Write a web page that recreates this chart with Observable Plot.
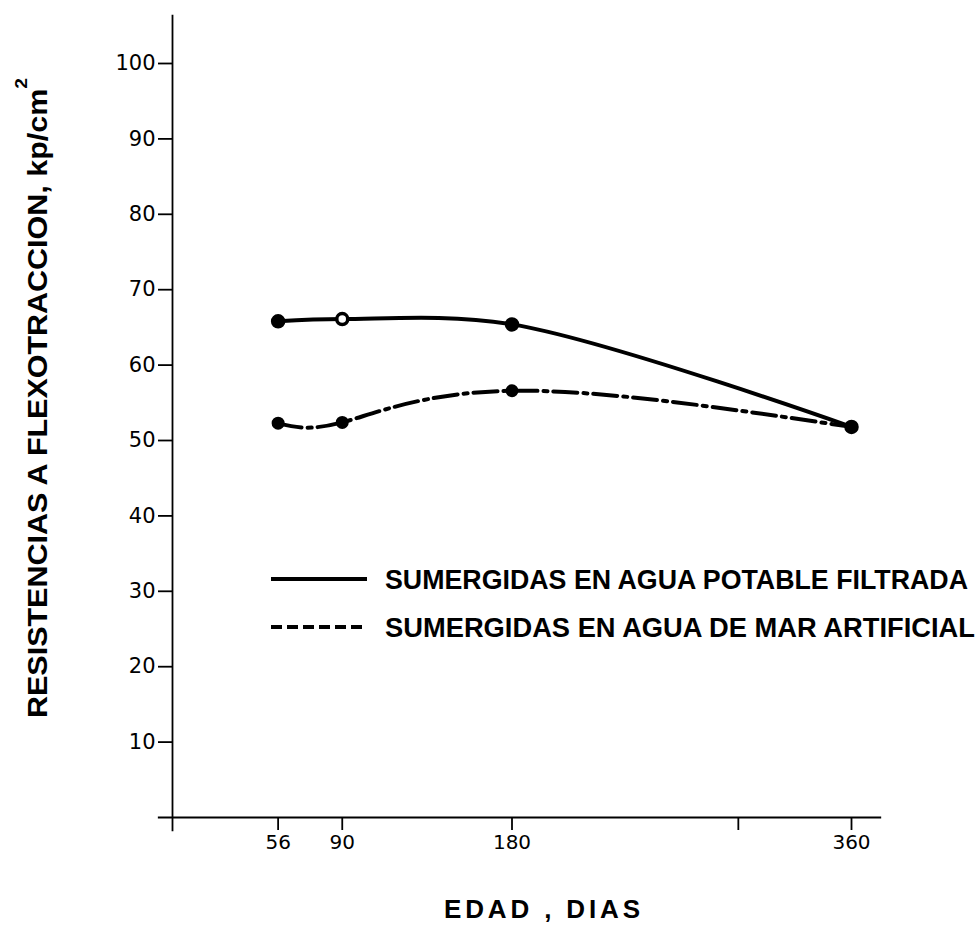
<!DOCTYPE html>
<html>
<head>
<meta charset="utf-8">
<script src="https://cdn.jsdelivr.net/npm/d3@7"></script>
<script src="https://cdn.jsdelivr.net/npm/@observablehq/plot@0.6"></script>
<style>
  html, body { margin: 0; padding: 0; background: #fff; }
  #chart { width: 976px; height: 929px; }
</style>
</head>
<body>
<div id="chart"></div>
<script>
// ---- data ----
const days = [56, 90, 180, 360];
const potable = [65.8, 66.1, 65.4, 51.8];   // SUMERGIDAS EN AGUA POTABLE FILTRADA
const mar = [52.3, 52.4, 56.6, 51.8];       // SUMERGIDAS EN AGUA DE MAR ARTIFICIAL
const seriesNames = ["SUMERGIDAS EN AGUA POTABLE FILTRADA", "SUMERGIDAS EN AGUA DE MAR ARTIFICIAL"];
const xTicks = [56, 90, 180, 300, 360];
const xTickLabels = ["56", "90", "180", "", "360"];
const yTicks = [10, 20, 30, 40, 50, 60, 70, 80, 90, 100];
const xAxisExtent = [-7.5, 376];
const yAxisExtent = [-1.9, 106.4];
const yLabel = "RESISTENCIAS A FLEXOTRACCION, kp/cm";
const xLabel = "EDAD , DIAS";

const rows = [
  ...days.map((d, i) => ({day: d, value: potable[i], series: seriesNames[0]})),
  ...days.map((d, i) => ({day: d, value: mar[i], series: seriesNames[1]}))
];
const rowsA = rows.filter(r => r.series === seriesNames[0]);
const rowsB = rows.filter(r => r.series === seriesNames[1]);

const FONT = "'Liberation Sans', Arial, sans-serif";
const TICKFONT = "'DejaVu Sans', 'Liberation Sans', sans-serif";

const chart = Plot.plot({
  width: 976,
  height: 929,
  marginLeft: 172,
  marginRight: 125,
  marginTop: 63,
  marginBottom: 112,
  x: {domain: [0, 360]},
  y: {domain: [0, 100]},
  style: {fontFamily: TICKFONT, fontSize: "21px", background: "#fff", color: "#000"},
  marks: [
    Plot.ruleX([0], {y1: yAxisExtent[0], y2: yAxisExtent[1], stroke: "#000", strokeWidth: 1.8}),
    Plot.ruleY([0], {x1: xAxisExtent[0], x2: xAxisExtent[1], stroke: "#000", strokeWidth: 1.8}),
    Plot.axisY(yTicks, {tickSize: 14, tickPadding: 3, fontSize: 21, label: null, strokeWidth: 1.8}),
    Plot.axisX(xTicks, {tickSize: 13, tickPadding: 4, fontSize: 20, label: null, strokeWidth: 1.8,
      tickFormat: (d) => xTickLabels[xTicks.indexOf(d)]}),
    Plot.line(rowsA, {x: "day", y: "value", curve: "catmull-rom", stroke: "#000", strokeWidth: 4}),
    Plot.line(rowsB, {x: "day", y: "value", curve: "natural", stroke: "#000", strokeWidth: 4,
      strokeDasharray: "24,6,4,6"}),
    Plot.dot(rowsB, {x: "day", y: "value", r: 5.5, fill: "#000", stroke: "#000", strokeWidth: 2}),
    Plot.dot(rowsA, {x: "day", y: "value", r: 5.5, stroke: "#000", strokeWidth: 3.5,
      fill: d => d.day === 90 ? "#fff" : "#000"})
  ]
});
document.getElementById("chart").appendChild(chart);

const svg = d3.select(chart);
// axis tick label sizing
svg.selectAll("text").attr("font-size", null).style("font-size", "21px").style("font-family", TICKFONT);
svg.selectAll("g").filter(function() {
  const a = this.getAttribute("aria-label") || "";
  return a.startsWith("x-axis");
}).selectAll("text").style("font-size", "20px");

// y axis label (rotated)
const yl = svg.append("text")
  .attr("transform", "translate(47,398) rotate(-90)")
  .attr("text-anchor", "middle")
  .attr("font-family", FONT)
  .attr("font-weight", "bold")
  .attr("font-size", 27)
  .attr("fill", "#000")
  .attr("textLength", 640)
  .attr("lengthAdjust", "spacingAndGlyphs");
yl.append("tspan").text(yLabel);
yl.append("tspan").attr("font-size", 17).attr("dy", -20).text("2");

// x axis label
svg.append("text")
  .attr("x", 542).attr("y", 918)
  .attr("text-anchor", "middle")
  .attr("font-family", FONT)
  .attr("font-weight", "bold")
  .attr("font-size", 26)
  .attr("fill", "#000")
  .attr("textLength", 196)
  .attr("lengthAdjust", "spacing")
  .text(xLabel);

// legend
const leg = svg.append("g");
const legendRows = [
  {y: 579, dash: null, width: 583},
  {y: 627, dash: "11,5", width: 590}
];
legendRows.forEach((lr, i) => {
  leg.append("line")
    .attr("x1", 271).attr("x2", 367).attr("y1", lr.y).attr("y2", lr.y)
    .attr("stroke", "#000").attr("stroke-width", 4)
    .attr("stroke-dasharray", lr.dash);
  leg.append("text")
    .attr("x", 385).attr("y", lr.y + 10)
    .attr("text-anchor", "start")
    .attr("font-family", FONT)
    .attr("font-weight", "bold")
    .attr("font-size", 27)
    .attr("fill", "#000")
    .attr("textLength", lr.width)
    .attr("lengthAdjust", "spacingAndGlyphs")
    .text(seriesNames[i]);
});
</script>
</body>
</html>
